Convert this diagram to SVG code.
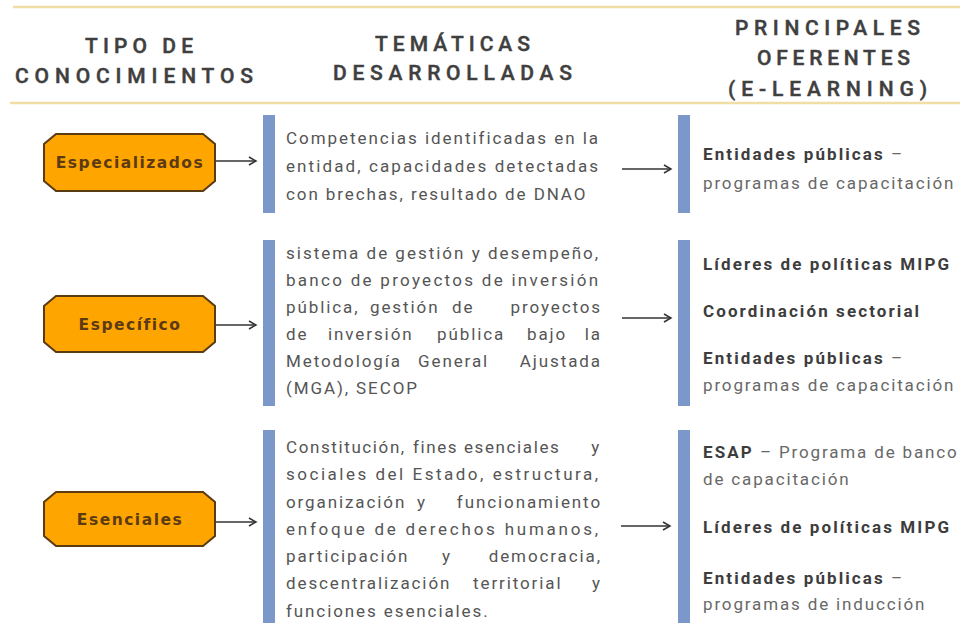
<svg xmlns="http://www.w3.org/2000/svg" width="960" height="623" viewBox="0 0 960 623">
<defs>
<style>
.hdr{font-family:Roboto,"Liberation Sans",sans-serif;font-size:21px;font-weight:500;fill:#3f3f3f;stroke:#3f3f3f;stroke-width:0.45px}
.oct{fill:#FFA500;stroke:#5a3b12;stroke-width:2}
.octt{font-family:"DejaVu Sans",Verdana,sans-serif;font-size:15.5px;font-weight:bold;fill:#5b3a14;letter-spacing:1.5px;text-anchor:middle}
.bar{fill:#7c98cb}
.mid{font-family:Roboto,"Liberation Sans",sans-serif;font-size:17px;fill:#555555;letter-spacing:1.9px}
.rt{font-family:Roboto,"Liberation Sans",sans-serif;font-size:17px;fill:#686868;letter-spacing:1.85px}
.b{font-weight:bold;fill:#3d3d3d;letter-spacing:2.1px}
.e{text-anchor:end}
.rule{stroke:#f0dea6;stroke-width:2.5}
.conn{stroke:#333;stroke-width:1.5;fill:none}
</style>
<marker id="ah" markerWidth="10" markerHeight="10" refX="8" refY="5" orient="auto" markerUnits="userSpaceOnUse">
<path d="M1,1 L8,5 L1,9" fill="none" stroke="#333" stroke-width="1.5"/>
</marker>
</defs>
<rect width="960" height="623" fill="#ffffff"/>

<g id="header">
<line class="rule" x1="13" y1="7" x2="960" y2="7"/>
<line class="rule" x1="10" y1="103" x2="960" y2="103"/>
<text class="hdr" x="85" y="53" textLength="108" lengthAdjust="spacing">TIPO DE</text>
<text class="hdr" x="15" y="83" textLength="238" lengthAdjust="spacing">CONOCIMIENTOS</text>
<text class="hdr" x="375" y="51" textLength="155" lengthAdjust="spacing">TEMÁTICAS</text>
<text class="hdr" x="333" y="80" textLength="239" lengthAdjust="spacing">DESARROLLADAS</text>
<text class="hdr" x="735" y="35" textLength="185" lengthAdjust="spacing">PRINCIPALES</text>
<text class="hdr" x="757" y="65" textLength="153" lengthAdjust="spacing">OFERENTES</text>
<text class="hdr" x="728" y="96" textLength="199" lengthAdjust="spacing">(E-LEARNING)</text>
</g>

<g id="node-especializados">
<path class="oct" d="M56,134 L203,134 L215,144 L215,181 L203,191 L56,191 L44,181 L44,144 Z"/>
<text class="octt" x="130" y="168">Especializados</text>
</g>
<g id="node-especifico">
<path class="oct" d="M56,296 L203,296 L215,306 L215,342 L203,352 L56,352 L44,342 L44,306 Z"/>
<text class="octt" x="130" y="330">Específico</text>
</g>
<g id="node-esenciales">
<path class="oct" d="M56,492 L203,492 L215,502 L215,536 L203,546 L56,546 L44,536 L44,502 Z"/>
<text class="octt" x="130" y="525">Esenciales</text>
</g>

<g id="tematicas-1">
<rect class="bar" x="263" y="115" width="12" height="98"/>
<text class="mid" x="286" y="144" textLength="314" lengthAdjust="spacing">Competencias identificadas en la</text>
<text class="mid" x="286" y="172" textLength="314" lengthAdjust="spacing">entidad, capacidades detectadas</text>
<text class="mid" x="286" y="200">con brechas, resultado de DNAO</text>
</g>
<g id="tematicas-2">
<rect class="bar" x="263" y="240" width="12" height="166"/>
<text class="mid" x="286" y="259" textLength="314" lengthAdjust="spacing">sistema de gestión y desempeño,</text>
<text class="mid" x="286" y="286" textLength="314" lengthAdjust="spacing">banco de proyectos de inversión</text>
<text class="mid" y="313"><tspan x="286">pública,</tspan> <tspan x="370">gestión</tspan> <tspan x="452">de</tspan> <tspan class="e" x="602">proyectos</tspan></text>
<text class="mid" y="340"><tspan x="286">de</tspan> <tspan x="328">inversión</tspan> <tspan x="437">pública</tspan> <tspan x="527">bajo</tspan> <tspan class="e" x="602">la</tspan></text>
<text class="mid" y="367"><tspan x="286">Metodología</tspan> <tspan x="418">General</tspan> <tspan class="e" x="602">Ajustada</tspan></text>
<text class="mid" x="286" y="394">(MGA), SECOP</text>
</g>
<g id="tematicas-3">
<rect class="bar" x="263" y="430" width="12" height="193"/>
<text class="mid" y="453" style="letter-spacing:1.6px"><tspan x="286">Constitución,</tspan> <tspan x="413">fines</tspan> <tspan x="464">esenciales</tspan> <tspan class="e" x="601">y</tspan></text>
<text class="mid" x="286" y="480" textLength="314" lengthAdjust="spacing">sociales del Estado, estructura,</text>
<text class="mid" y="508"><tspan x="286">organización</tspan> <tspan x="417">y</tspan> <tspan class="e" x="602">funcionamiento</tspan></text>
<text class="mid" x="286" y="535" textLength="314" lengthAdjust="spacing">enfoque de derechos humanos,</text>
<text class="mid" y="562"><tspan x="286">participación</tspan> <tspan x="442">y</tspan> <tspan class="e" x="602">democracia,</tspan></text>
<text class="mid" y="589"><tspan x="286">descentralización</tspan> <tspan x="473">territorial</tspan> <tspan class="e" x="602">y</tspan></text>
<text class="mid" x="286" y="617">funciones esenciales.</text>
</g>

<g id="oferentes-1">
<rect class="bar" x="678" y="115" width="12" height="98"/>
<text class="rt" x="703" y="160"><tspan class="b">Entidades públicas</tspan> –</text>
<text class="rt" x="703" y="189">programas de capacitación</text>
</g>
<g id="oferentes-2">
<rect class="bar" x="678" y="240" width="12" height="166"/>
<text class="rt b" x="703" y="270">Líderes de políticas MIPG</text>
<text class="rt b" x="703" y="317">Coordinación sectorial</text>
<text class="rt" x="703" y="364"><tspan class="b">Entidades públicas</tspan> –</text>
<text class="rt" x="703" y="391">programas de capacitación</text>
</g>
<g id="oferentes-3">
<rect class="bar" x="678" y="430" width="12" height="193"/>
<text class="rt" x="703" y="458"><tspan class="b">ESAP</tspan> – Programa de banco</text>
<text class="rt" x="703" y="485">de capacitación</text>
<text class="rt b" x="703" y="533">Líderes de políticas MIPG</text>
<text class="rt" x="703" y="584"><tspan class="b">Entidades públicas</tspan> –</text>
<text class="rt" x="703" y="610">programas de inducción</text>
</g>

<g id="connectors">
<path class="conn" d="M216,161 L256,161" marker-end="url(#ah)"/>
<path class="conn" d="M216,325 L256,325" marker-end="url(#ah)"/>
<path class="conn" d="M216,522 L256,522" marker-end="url(#ah)"/>
<path class="conn" d="M622,169 L671,169" marker-end="url(#ah)"/>
<path class="conn" d="M622,318 L671,318" marker-end="url(#ah)"/>
<path class="conn" d="M621,526 L670,526" marker-end="url(#ah)"/>
</g>
</svg>
